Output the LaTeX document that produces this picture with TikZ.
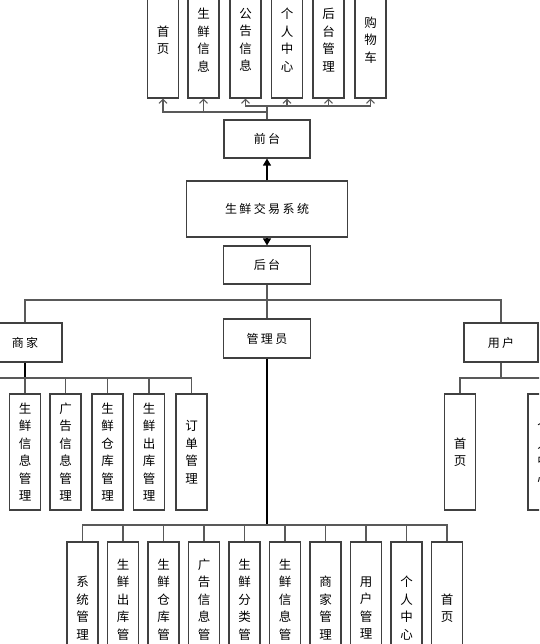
\documentclass[tikz,border=0pt]{standalone}
\usepackage{fontspec}
\usepackage{tikz}
\usetikzlibrary{arrows.meta,calc,positioning}
\newfontfamily\cjk{Noto Sans CJK SC}
\newfontfamily\cjkwide[LetterSpace=20]{Noto Sans CJK SC}
\definecolor{boxgray}{rgb}{0.25,0.25,0.25}
\definecolor{linegray}{rgb}{0.35,0.35,0.35}

\begin{document}
\begin{tikzpicture}[x=1pt,y=-1pt,
    hbox/.style={draw=boxgray,line width=1.1pt,fill=white,inner sep=0pt,
      font=\cjkwide\fontsize{12}{14}\selectfont},
    vbox/.style={draw=boxgray,line width=1.1pt,fill=white,inner sep=0pt,
      minimum width=31pt,minimum height=116pt,align=center,
      font=\cjk\fontsize{12.5}{17.5}\selectfont},
    link/.style={draw=linegray,line width=1.1pt},
    uptip/.style={link,-{Straight Barb[length=4pt,width=8pt]}},
    filltip/.style={link,draw=black,-{Triangle[length=7pt,width=8pt]}}]
        \useasboundingbox (0,0) rectangle (539,644);
        \clip (0,0) rectangle (539,644);
        \fill[white] (0,0) rectangle (539,644);
        %Main boxes
        \node[hbox,minimum width=86pt,minimum height=38pt] (qt) at (267,139) {前台};
        \node[hbox,minimum width=161pt,minimum height=56pt] (sys) at (267,209) {生鲜交易系统};
        \node[hbox,minimum width=87pt,minimum height=38pt] (ht) at (267,265) {后台};
        %Front end
        \node[vbox] (f1) at (163,40) {首\\页};
        \node[vbox] (f2) at (203.5,40) {生\\鲜\\信\\息};
        \node[vbox] (f3) at (245.5,40) {公\\告\\信\\息};
        \node[vbox] (f4) at (287,40) {个\\人\\中\\心};
        \node[vbox] (f5) at (328.5,40) {后\\台\\管\\理};
        \node[vbox] (f6) at (370.5,40) {购\\物\\车};
        \coordinate (qa) at (267,112);
        \coordinate (qb) at (267,106);
        \draw[link] (qt.north) -- (qb);
        \draw[uptip] (qa) -| (f1.south);
        \draw[uptip] (qa) -| (f2.south);
        \draw[uptip] (qb) -| (f3.south);
        \draw[uptip] (qb) -| (f4.south);
        \draw[uptip] (qb) -| (f5.south);
        \draw[uptip] (qb) -| (f6.south);
        \draw[filltip] (sys.north) -- (qt.south);
        \draw[filltip] (sys.south) -- (ht.north);
        %Back end
        \node[hbox,minimum width=74pt,minimum height=39pt] (sj) at (25,342.5) {商家};
        \node[hbox,minimum width=87pt,minimum height=39pt] (gly) at (267,338.5) {管理员};
        \node[hbox,minimum width=74pt,minimum height=39pt] (yh) at (501,342.5) {用户};
        \coordinate (hb) at (267,300);
        \draw[link] (ht.south) -- (gly.north);
        \draw[link] (sj.north) |- (hb) -| (yh.north);
        %Merchant
        \node[vbox] (s1) at (25,452) {生\\鲜\\信\\息\\管\\理};
        \node[vbox] (s2) at (65.5,452) {广\\告\\信\\息\\管\\理};
        \node[vbox] (s3) at (107.5,452) {生\\鲜\\仓\\库\\管\\理};
        \node[vbox] (s4) at (149,452) {生\\鲜\\出\\库\\管\\理};
        \node[vbox] (s5) at (191.5,452) {订\\单\\管\\理};
        \coordinate (sb) at (25,378);
        \coordinate (sl) at (0,378);
        \draw[link,draw=black] (sj.south) -- (sb);
        \draw[link] (sl) -- (sb);
        \draw[link] (sb) -- (s1.north);
        \draw[link] (sb) -| (s2.north);
        \draw[link] (sb) -| (s3.north);
        \draw[link] (sb) -| (s4.north);
        \draw[link] (sb) -| (s5.north);
        %User
        \node[vbox] (u1) at (460,452) {首\\页};
        \node[vbox] (u2) at (543.5,452) {个\\人\\中\\心};
        \coordinate (ub) at (501,378);
        \draw[link] (yh.south) -- (ub);
        \draw[link] (ub) -| (u1.north);
        \draw[link] (ub) -| (u2.north);
        %Admin
        \node[vbox,minimum height=132pt] (g1) at (82.5,608) {系\\统\\管\\理};
        \node[vbox,minimum height=132pt] (g2) at (123,608) {生\\鲜\\出\\库\\管\\理};
        \node[vbox,minimum height=132pt] (g3) at (163.5,608) {生\\鲜\\仓\\库\\管\\理};
        \node[vbox,minimum height=132pt] (g4) at (204,608) {广\\告\\信\\息\\管\\理};
        \node[vbox,minimum height=132pt] (g5) at (244.5,608) {生\\鲜\\分\\类\\管\\理};
        \node[vbox,minimum height=132pt] (g6) at (285,608) {生\\鲜\\信\\息\\管\\理};
        \node[vbox,minimum height=132pt] (g7) at (325.5,608) {商\\家\\管\\理};
        \node[vbox,minimum height=132pt] (g8) at (366,608) {用\\户\\管\\理};
        \node[vbox,minimum height=132pt] (g9) at (406.5,608) {个\\人\\中\\心};
        \node[vbox,minimum height=132pt] (g10) at (447,608) {首\\页};
        \coordinate (gb) at (267,525);
        \draw[link,draw=black,line width=1.6pt] (gly.south) -- (gb);
        \draw[link] (gb) -| (g1.north);
        \draw[link] (gb) -| (g2.north);
        \draw[link] (gb) -| (g3.north);
        \draw[link] (gb) -| (g4.north);
        \draw[link] (gb) -| (g5.north);
        \draw[link] (gb) -| (g6.north);
        \draw[link] (gb) -| (g7.north);
        \draw[link] (gb) -| (g8.north);
        \draw[link] (gb) -| (g9.north);
        \draw[link] (gb) -| (g10.north);
\end{tikzpicture}
\end{document}
